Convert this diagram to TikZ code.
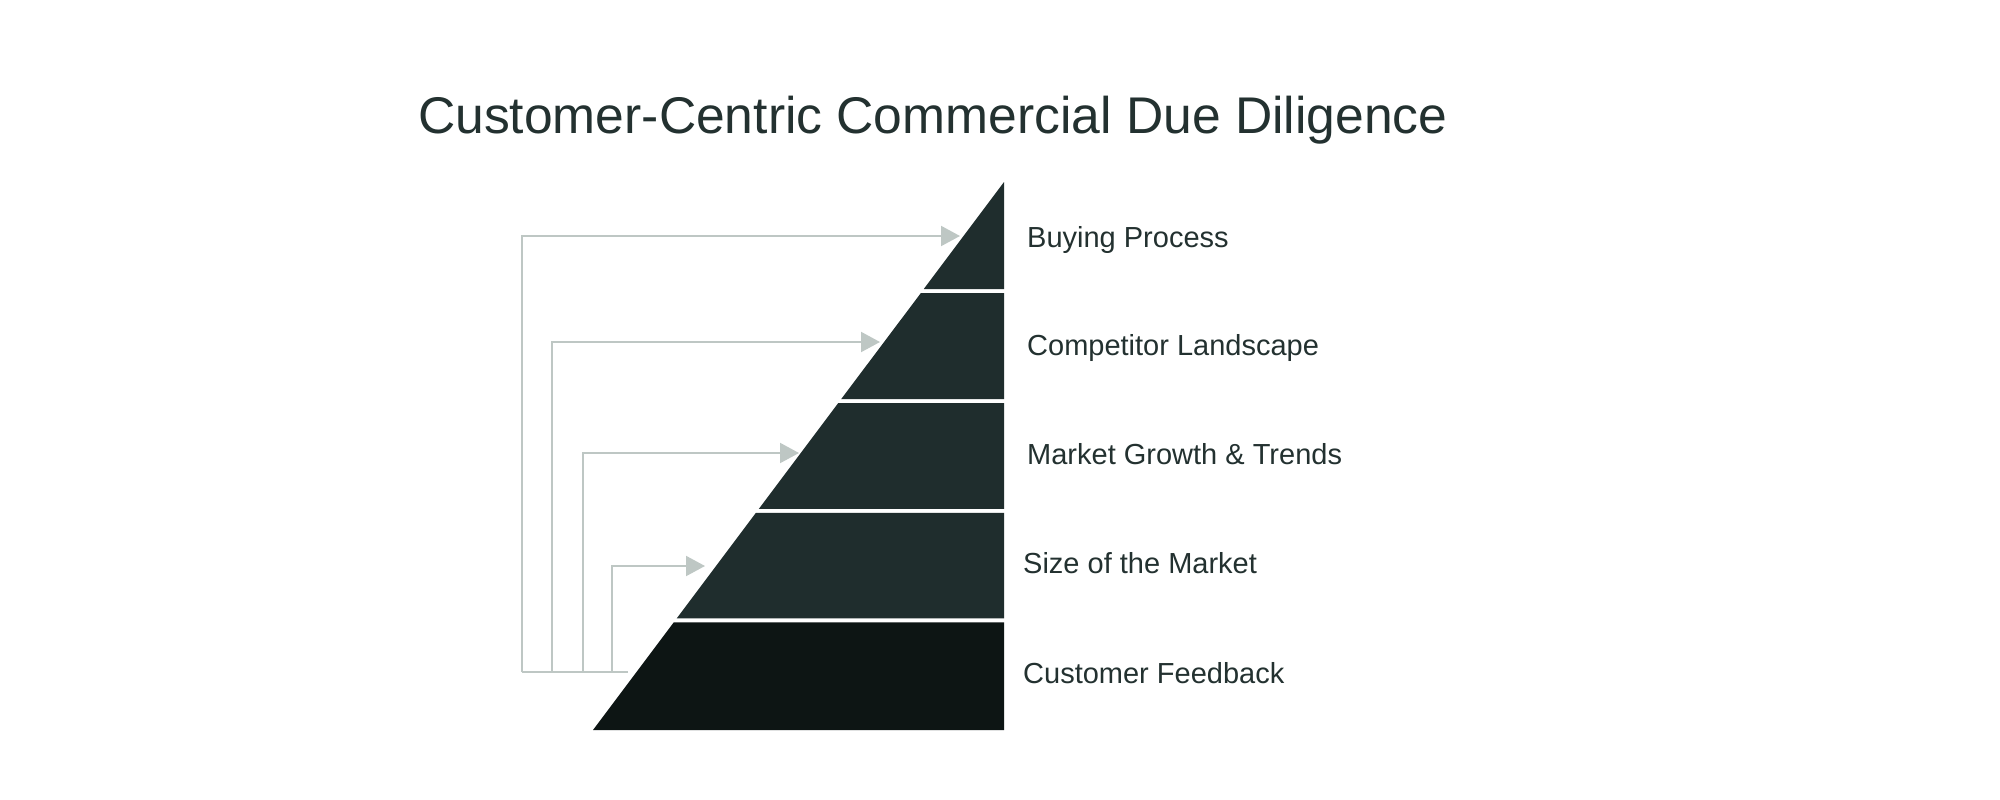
\documentclass[tikz,border=0pt]{standalone}
\usepackage{fontspec}
\setmainfont{Liberation Sans}
\usetikzlibrary{arrows.meta}
\definecolor{layercol}{HTML}{1F2D2D}
\definecolor{basecol}{HTML}{0D1514}
\definecolor{conncol}{HTML}{BEC7C4}
\definecolor{txtcol}{HTML}{233130}
\tikzset{
  layer/.style={fill=layercol, draw=none},
  baselayer/.style={fill=basecol, draw=none},
  conn/.style={draw=conncol, line width=2pt, -{Triangle[length=19pt,width=20pt]}},
  connline/.style={draw=conncol, line width=2pt},
  lbl/.style={anchor=base west, inner sep=0pt, text=txtcol, font=\fontsize{29}{35}\selectfont},
  ttl/.style={anchor=base west, inner sep=0pt, text=txtcol, font=\fontsize{51.6}{62}\selectfont}
}
\begin{document}
\begin{tikzpicture}[x=1pt,y=-1pt]
\useasboundingbox (0,0) rectangle (2000,800);
\fill[white] (0,0) rectangle (2000,800);

% title
\node[ttl] (title) at (418,133) {Customer-Centric Commercial Due Diligence};

% pyramid layers
\path[layer] (1004,182) -- (923.8,289.0) -- (1004,289.0) -- cycle;
\path[layer] (920.9,293.0) -- (841.1,399.2) -- (1004,399.2) -- (1004,293.0) -- cycle;
\path[layer] (838.1,403.2) -- (758.9,508.8) -- (1004,508.8) -- (1004,403.2) -- cycle;
\path[layer] (755.9,512.8) -- (676.7,618.4) -- (1004,618.4) -- (1004,512.8) -- cycle;
\path[baselayer] (673.7,622.4) -- (593,730) -- (1004,730) -- (1004,622.4) -- cycle;

% labels
\node[lbl] (l1) at (1027,247) {Buying Process};
\node[lbl] (l2) at (1027,355) {Competitor Landscape};
\node[lbl] (l3) at (1027,464) {Market Growth \& Trends};
\node[lbl] (l4) at (1023,573) {Size of the Market};
\node[lbl] (l5) at (1023,683) {Customer Feedback};

% connector coordinates
\coordinate (src) at (628,672);
\coordinate (c1) at (522,672);
\coordinate (c2) at (552,672);
\coordinate (c3) at (583,672);
\coordinate (c4) at (612,672);
\coordinate (t1) at (960,236);
\coordinate (t2) at (880,342);
\coordinate (t3) at (799,453);
\coordinate (t4) at (705,566);

% connectors
\draw[connline] (src) -- (c1);
\draw[conn] (c1) |- (t1);
\draw[conn] (c2) |- (t2);
\draw[conn] (c3) |- (t3);
\draw[conn] (c4) |- (t4);
\end{tikzpicture}
\end{document}
